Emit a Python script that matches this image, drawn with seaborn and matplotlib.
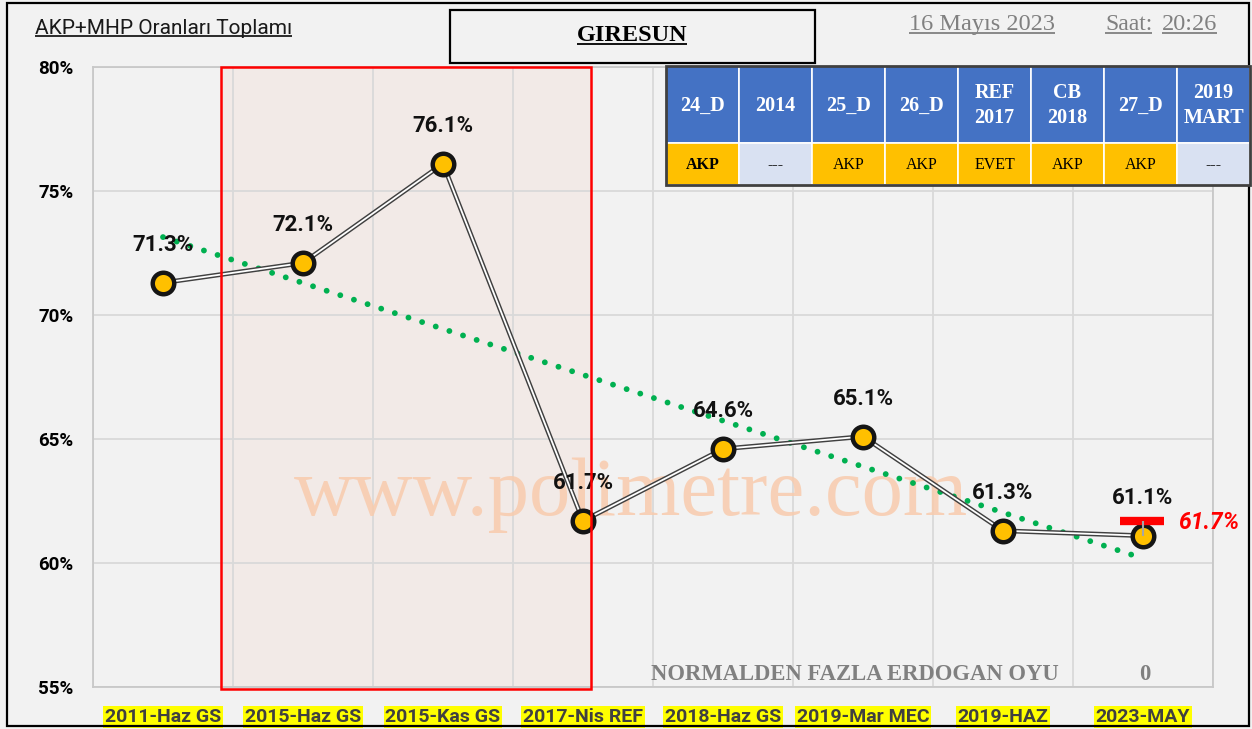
import numpy as np
import pandas as pd
import matplotlib
matplotlib.use("Agg")
import matplotlib.pyplot as plt
from matplotlib.patches import Rectangle
from matplotlib.ticker import FixedLocator
import seaborn as sns

# ---- data -------------------------------------------------------------
periods = ["2011-Haz GS", "2015-Haz GS", "2015-Kas GS", "2017-Nis REF",
           "2018-Haz GS", "2019-Mar MEC", "2019-HAZ", "2023-MAY"]
akp_mhp = [71.3, 72.1, 76.1, 61.7, 64.6, 65.1, 61.3, 61.1]
y_ticks = [55, 60, 65, 70, 75, 80]
ref_value = 61.7
highlight_periods = ["2015-Haz GS", "2017-Nis REF"]

table_head = ["24_D", "2014", "25_D", "26_D", "REF\n2017", "CB\n2018", "27_D", "2019\nMART"]
table_vals = ["AKP", "---", "AKP", "AKP", "EVET", "AKP", "AKP", "---"]

province = "GIRESUN"
chart_title = "AKP+MHP Oranları Toplamı"
date_text = "16 Mayıs 2023"
time_label = "Saat:"
time_text = "20:26"
extra_label = "NORMALDEN FAZLA ERDOGAN OYU"
extra_value = "0"
watermark = "www.polimetre.com"

# ---- style ------------------------------------------------------------
sns.set_theme(style="white")
SANS = ["Roboto", "DejaVu Sans"]
SERIF = ["Liberation Serif", "DejaVu Serif"]
plt.rcParams["font.family"] = SANS
BG = "#F2F2F2"
GRID = "#D9D9D9"

W, H = 1252, 729
fig = plt.figure(figsize=(W / 100, H / 100), dpi=100, facecolor=BG)
ax = fig.add_axes([93 / W, 1 - 687 / H, (1213 - 93) / W, (687 - 67) / H])
ax.set_facecolor(BG)

df = pd.DataFrame({"x": np.arange(len(periods)), "period": periods, "value": akp_mhp})

# highlighted span
i0 = periods.index(highlight_periods[0])
i1 = periods.index(highlight_periods[1])
span_x0, span_x1 = i0 - 0.586, i1 + 0.06
ax.add_patch(Rectangle((span_x0, 54.93), span_x1 - span_x0, 80 - 54.93,
                       facecolor="#F2EAE7", edgecolor="none", zorder=0.3, clip_on=False))
ax.add_patch(Rectangle((span_x0, 54.93), span_x1 - span_x0, 80 - 54.93,
                       facecolor="none", edgecolor="#FF0000", lw=1.8, zorder=6, clip_on=False))

# watermark
ax.text(3.34, 62.75, watermark, fontsize=59.5, family=SERIF, color="#F8CBAD",
        alpha=0.85, ha="center", va="center", zorder=0.8)

# linear trend
coef = np.polyfit(df["x"], df["value"], 1)
trend = np.polyval(coef, df["x"])
ax.plot(df["x"], trend, color="#00B050", lw=4.2, linestyle=(0, (0.01, 2.45)),
        dash_capstyle="round", zorder=3)

# double (outlined) line
sns.lineplot(data=df, x="x", y="value", ax=ax, color="#404040", lw=3.4, zorder=4,
             legend=False)
sns.lineplot(data=df, x="x", y="value", ax=ax, color="white", lw=1.3, zorder=4.1,
             legend=False)

# reference mark for last period
last = len(periods) - 1
ax.vlines(last, akp_mhp[-1], ref_value, color="#A6A6A6", lw=1.5, zorder=5.2)
ax.plot([last - 0.165, last + 0.15], [ref_value, ref_value], color="#FF0000",
        lw=6, solid_capstyle="butt", zorder=5.1)

# markers
sns.scatterplot(data=df, x="x", y="value", ax=ax, s=240, color="#FFC000",
                edgecolor="#151515", linewidth=3.2, zorder=5, legend=False)

for xi, v in zip(df["x"], akp_mhp):
    ax.annotate(f"{v:.1f}%", (xi, v), xytext=(0, 27), textcoords="offset points",
                ha="center", va="center", fontsize=16, fontweight="bold",
                color="#111111", zorder=5.5)

ax.text(last + 0.25, ref_value - 0.05, f"{ref_value:.1f}%", color="#FF0000",
        fontsize=16.5, fontweight="bold", style="italic", ha="left", va="center",
        zorder=7, clip_on=False)

# axes, ticks, grid
ax.set_xlim(-0.5, len(periods) - 0.5)
ax.set_ylim(55, 80)
ax.set_yticks(y_ticks)
ax.set_yticklabels([f"{t}%" for t in y_ticks], fontsize=13.5, fontweight="bold",
                   color="black")
ax.set_xticks(df["x"])
ax.set_xticklabels(periods, fontsize=14, fontweight="bold", color="#404040")
for lab in ax.get_xticklabels():
    lab.set_bbox(dict(facecolor="#FFFF00", edgecolor="none", pad=1.2))
ax.xaxis.set_minor_locator(FixedLocator(np.arange(-0.5, len(periods), 1.0)))
ax.tick_params(axis="x", which="both", length=0, pad=15)
ax.tick_params(axis="y", length=0, pad=14)
ax.grid(axis="y", which="major", color=GRID, lw=1.3)
ax.grid(axis="x", which="minor", color=GRID, lw=1.3)
ax.grid(axis="x", which="major", visible=False)
ax.set_axisbelow(True)
for sp in ax.spines.values():
    sp.set_color("#C8C8C8")
    sp.set_linewidth(1.3)
ax.set_xlabel("")
ax.set_ylabel("")

# ---- overlay in pixel coordinates --------------------------------------
ov = fig.add_axes([0, 0, 1, 1], zorder=10)
ov.set_xlim(0, W)
ov.set_ylim(H, 0)
ov.axis("off")
ov.patch.set_visible(False)

ov.add_patch(Rectangle((7, 3), 1242, 723, facecolor="none", edgecolor="black", lw=1.6))

underlined = []
underlined.append(ov.text(35, 28, chart_title, fontsize=15, color="#1A1A1A",
                          ha="left", va="center"))

ov.add_patch(Rectangle((450, 10), 365, 53, facecolor=BG, edgecolor="black", lw=1.6))
underlined.append(ov.text(632, 35, province, fontsize=17.5, fontweight="bold",
                          family=SERIF, ha="center", va="center", color="black"))

underlined.append(ov.text(909, 24, date_text, fontsize=17.5, family=SERIF,
                          color="#808080", ha="left", va="center"))
underlined.append(ov.text(1105, 24, time_label, fontsize=17, family=SERIF,
                          color="#808080", ha="left", va="center"))
underlined.append(ov.text(1162, 24, time_text, fontsize=17.5, family=SERIF,
                          color="#808080", ha="left", va="center"))

ov.text(651, 675, extra_label, fontsize=16.3, fontweight="bold", family=SERIF,
        color="#808080", ha="left", va="center")
ov.text(1145, 675, extra_value, fontsize=16.3, fontweight="bold", family=SERIF,
        color="#808080", ha="center", va="center")

# party table
tx0, tx1 = 666, 1250
ty0, ty_mid, ty1 = 66, 143, 185
cw = (tx1 - tx0) / len(table_head)
for k, (head, val) in enumerate(zip(table_head, table_vals)):
    cx = tx0 + k * cw
    ov.add_patch(Rectangle((cx, ty0), cw, ty_mid - ty0, facecolor="#4472C4",
                           edgecolor="white", lw=1.2))
    cell = "#D9E1F2" if val == "---" else "#FFC000"
    ov.add_patch(Rectangle((cx, ty_mid), cw, ty1 - ty_mid, facecolor=cell,
                           edgecolor="white", lw=1.2))
    ov.text(cx + cw / 2, (ty0 + ty_mid) / 2 + 1, head, color="white", fontsize=14.5,
            fontweight="bold", family=SERIF, ha="center", va="center",
            linespacing=1.35)
    ov.text(cx + cw / 2, (ty_mid + ty1) / 2 + 1, val, color="black", fontsize=11.5,
            fontweight="bold" if k == 0 else "normal", family=SERIF,
            ha="center", va="center")
ov.add_patch(Rectangle((tx0, ty0), tx1 - tx0, ty1 - ty0, facecolor="none",
                       edgecolor="#404040", lw=2))

# underline selected texts
fig.canvas.draw()
rend = fig.canvas.get_renderer()
inv = ov.transData.inverted()
for t in underlined:
    bb = t.get_window_extent(rend)
    (x0, ya), (x1, yb) = inv.transform([[bb.x0, bb.y0], [bb.x1, bb.y1]])
    bottom = max(ya, yb)
    ov.plot([x0, x1], [bottom - 1.5, bottom - 1.5], color=t.get_color(), lw=1.3,
            solid_capstyle="butt")

fig.savefig("out.png", dpi=100, facecolor=BG)
